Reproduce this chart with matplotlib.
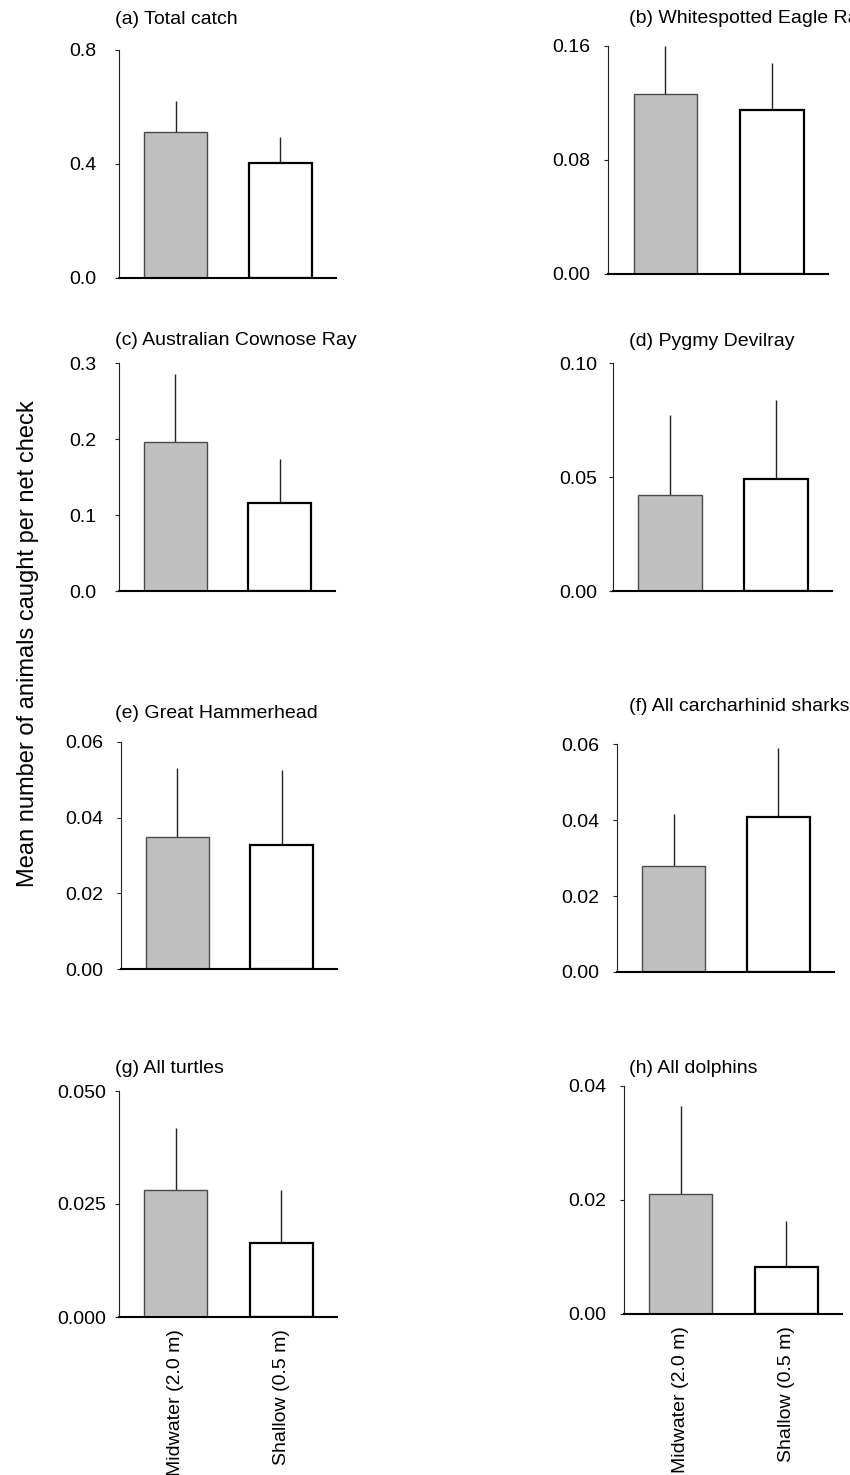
import matplotlib
matplotlib.use('Agg')
import matplotlib.pyplot as plt

plt.rcParams['font.family'] = ['Liberation Sans', 'DejaVu Sans']

W, H = 850, 1475

# mean catch per net check and upper SE, midwater vs shallow nets
titles = ['(a) Total catch', '(b) Whitespotted Eagle Ray',
          '(c) Australian Cownose Ray', '(d) Pygmy Devilray',
          '(e) Great Hammerhead', '(f) All carcharhinid sharks',
          '(g) All turtles', '(h) All dolphins']
groups = ['Midwater (2.0 m)', 'Shallow (0.5 m)']
mid_mean = [0.512, 0.126, 0.196, 0.0422, 0.035, 0.028, 0.028, 0.021]
mid_se = [0.109, 0.034, 0.090, 0.035, 0.0182, 0.0136, 0.0138, 0.0155]
sha_mean = [0.403, 0.115, 0.1156, 0.0492, 0.0329, 0.0409, 0.0164, 0.0083]
sha_se = [0.092, 0.033, 0.058, 0.0345, 0.0198, 0.018, 0.0116, 0.008]
yticks = [[0.0, 0.4, 0.8], [0.0, 0.08, 0.16], [0.0, 0.1, 0.2, 0.3],
          [0.0, 0.05, 0.10], [0.0, 0.02, 0.04, 0.06], [0.0, 0.02, 0.04, 0.06],
          [0.0, 0.025, 0.050], [0.0, 0.02, 0.04]]
ytick_fmt = ['%.1f', '%.2f', '%.1f', '%.2f', '%.2f', '%.2f', '%.3f', '%.2f']

# panel boxes in pixels: left, top, width, height
boxes = [(119, 50, 217, 228), (608, 46, 220, 228),
         (119, 363, 216, 228), (613, 363, 219, 228),
         (121, 742, 216, 227), (617, 744, 217, 228),
         (119, 1091, 218, 226), (624, 1086, 218, 228)]
label_pad = [13.5, 9.5, 13.5, 8.5, 9.5, 10, 6, 9.5]
title_base = [24, 23, 345, 346, 718, 711, 1073, 1073]

fig = plt.figure(figsize=(W / 100, H / 100), dpi=100)

for i in range(8):
  l, t, w, h = boxes[i]
  ax = fig.add_axes([l / W, 1 - (t + h) / H, w / W, h / H])
  x = [0, 1]
  ax.bar(x[0], mid_mean[i], width=0.6, color='#c0c0c0', edgecolor='#4a4a4a', linewidth=1.0, zorder=2)
  ax.bar(x[1], sha_mean[i], width=0.6, color='white', edgecolor='black', linewidth=1.6, zorder=2)
  ax.errorbar(x, [mid_mean[i], sha_mean[i]], yerr=[[0, 0], [mid_se[i], sha_se[i]]],
              fmt='none', ecolor='#222222', elinewidth=1.0, capsize=0, zorder=1, clip_on=False)
  ax.set_xlim(-0.54, 1.53)
  ax.set_ylim(0, yticks[i][-1])
  ax.set_yticks(yticks[i])
  ax.set_yticklabels([ytick_fmt[i] % v for v in yticks[i]])
  ax.tick_params(axis='y', length=3, width=0.8, pad=label_pad[i], labelsize=14, color='#222222')
  ax.spines['top'].set_visible(False)
  ax.spines['right'].set_visible(False)
  ax.spines['left'].set_linewidth(0.8)
  ax.spines['left'].set_color('#222222')
  ax.spines['bottom'].set_linewidth(1.5)
  if i >= 6:
    # group names only under the bottom row, running off the page edge
    ax.set_xticks(x)
    ax.set_xticklabels(groups, rotation=90, fontsize=14, va='top')
    ax.tick_params(axis='x', length=0, pad=9)
  else:
    ax.set_xticks([])
  tx = 115 if i % 2 == 0 else 629
  fig.text(tx / W, 1 - title_base[i] / H, titles[i], fontsize=14, ha='left', va='baseline')

fig.text(28 / W, 1 - 644 / H, 'Mean number of animals caught per net check',
         rotation=90, fontsize=17, ha='center', va='center')

fig.savefig('out.png', dpi=100)
